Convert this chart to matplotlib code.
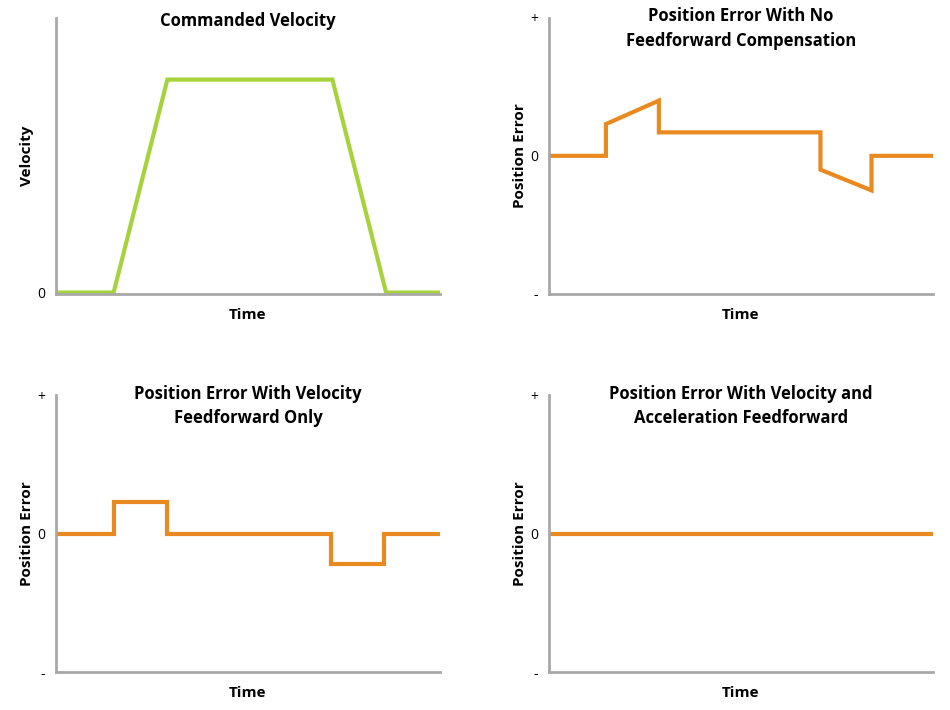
import matplotlib
matplotlib.use("Agg")
import matplotlib.pyplot as plt

plt.rcParams['font.family'] = ['Open Sans', 'DejaVu Sans']

# commanded velocity (time 0..10, velocity 0..1)
vel_t = [0, 1.5, 2.9, 7.2, 8.6, 10]
vel_v = [0, 0, 0.775, 0.775, 0, 0]

# error with no feedforward (-1..1)
nff_t = [0, 1.48, 1.48, 2.86, 2.86, 7.07, 7.07, 8.4, 8.4, 10]
nff_e = [0, 0, 0.23, 0.40, 0.17, 0.17, -0.10, -0.25, 0, 0]

# error with velocity feedforward only
vff_t = [0, 1.5, 1.5, 2.88, 2.88, 7.17, 7.17, 8.55, 8.55, 10]
vff_e = [0, 0, 0.23, 0.23, 0, 0, -0.22, -0.22, 0, 0]

# error with velocity and acceleration feedforward
aff_t = [0, 10]
aff_e = [0, 0]

GREEN = '#a6d33b'
ORANGE = '#e88a1f'
GRAY = '#a8a8a8'

fig = plt.figure(figsize=(9.5, 7.1), dpi=100)

def panel(rect, t, v, color, title, ylabel, ylim, yticks, yticklabels):
    ax = fig.add_axes(rect)
    ax.plot(t, v, color=color, lw=3, solid_joinstyle='miter')
    ax.set_xlim(0, 10)
    ax.set_ylim(*ylim)
    for s in ['top', 'right']:
        ax.spines[s].set_visible(False)
    for s in ['left', 'bottom']:
        ax.spines[s].set_color(GRAY)
        ax.spines[s].set_linewidth(2)
    ax.set_xticks([])
    ax.set_yticks(yticks)
    ax.set_yticklabels(yticklabels, fontsize=10)
    ax.tick_params(axis='y', length=0, pad=8)
    ax.set_xlabel('Time', fontsize=11, fontweight='bold', labelpad=10)
    ax.set_ylabel(ylabel, fontsize=11, fontweight='bold', labelpad=2)
    ax.set_title(title, fontsize=12, fontweight='bold', y=1.0,
                 pad=-20 if '\n' in title else -6, linespacing=1.45)
    return ax

panel([0.059, 0.586, 0.404, 0.389], vel_t, vel_v, GREEN, 'Commanded Velocity',
      'Velocity', (-0.005, 1), [0], ['0'])
panel([0.578, 0.586, 0.404, 0.389], nff_t, nff_e, ORANGE,
      'Position Error With No\nFeedforward Compensation', 'Position Error',
      (-1, 1), [-1, 0, 1], ['-', '0', '+'])
panel([0.059, 0.0535, 0.404, 0.39], vff_t, vff_e, ORANGE,
      'Position Error With Velocity\nFeedforward Only', 'Position Error',
      (-1, 1), [-1, 0, 1], ['-', '0', '+'])
panel([0.578, 0.0535, 0.404, 0.39], aff_t, aff_e, ORANGE,
      'Position Error With Velocity and\nAcceleration Feedforward', 'Position Error',
      (-1, 1), [-1, 0, 1], ['-', '0', '+'])

fig.savefig('out.png', dpi=100)
